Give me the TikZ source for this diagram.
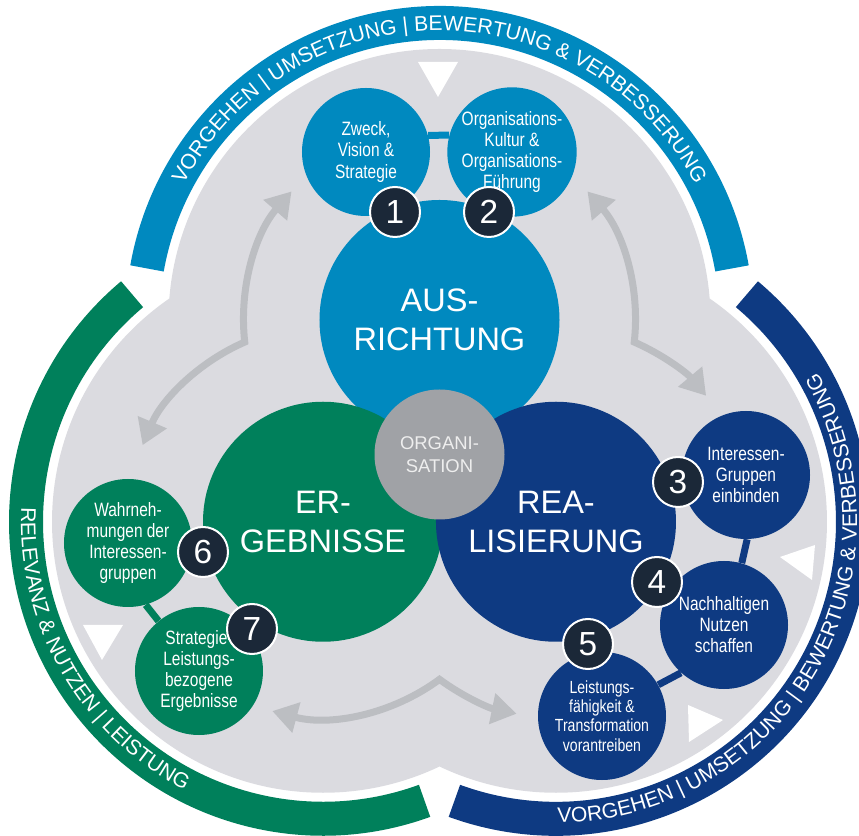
\documentclass[tikz,border=0pt]{standalone}
\usepackage{fontspec}
\setmainfont{Liberation Sans}
\newfontfamily\narrowfont{Liberation Sans}[FakeStretch=0.8]
\usetikzlibrary{arrows.meta,calc,decorations.text}

\definecolor{ausblue}{RGB}{0,137,191}
\definecolor{reablue}{RGB}{14,58,130}
\definecolor{ergreen}{RGB}{0,128,91}
\definecolor{backgray}{RGB}{219,219,224}
\definecolor{orggray}{RGB}{160,162,166}
\definecolor{orgtext}{RGB}{238,238,238}
\definecolor{arrowgray}{RGB}{188,190,194}
\definecolor{badgeblack}{RGB}{27,40,56}

\newcommand\bandfont{\fontsize{12}{12}\selectfont}

\tikzset{
  band/.style={line width=0.68cm, #1},
  bandtext/.style={decorate, decoration={text along path, text align=center, text color=white, text={|\bandfont|#1}}},
  bigcircle/.style={circle, fill=#1, text=white, minimum size=4.8cm, inner sep=0pt, align=center, font=\fontsize{18.5}{22}\selectfont},
  smallcircle/.style={circle, fill=#1, text=white, minimum size=2.56cm, inner sep=0pt, align=center, font=\fontsize{11}{12}\narrowfont},
  badge/.style={circle, fill=badgeblack, draw=white, line width=0.04cm, minimum size=1cm, inner sep=0pt, text=white, font=\fontsize{19}{19}\selectfont},
  link/.style={line width=0.14cm, #1},
  loop arrow/.style={arrowgray, line width=0.14cm, {Triangle[length=0.5cm,width=0.6cm]}-{Triangle[length=0.5cm,width=0.6cm]}},
  marker/.style={fill=white}
}

\begin{document}
\begin{tikzpicture}
\useasboundingbox (-8.79,-7.63) rectangle (8.39,9.09) ;

\coordinate (cA) at (90:2.69) ;
\coordinate (cE) at (210:2.69) ;
\coordinate (cR) at (330:2.69) ;

\draw [band=ausblue] ($(cA)+(10:5.94)$)  arc [start angle=10,  end angle=170, radius=5.94] ;
\draw [band=ergreen] ($(cE)+(130:5.94)$) arc [start angle=130, end angle=290, radius=5.94] ;
\draw [band=reablue] ($(cR)+(250:5.94)$) arc [start angle=250, end angle=410, radius=5.94] ;

\path [bandtext={VORGEHEN {\textbar} UMSETZUNG {\textbar} BEWERTUNG {\&} VERBESSERUNG}] ($(cA)+(170:5.79)$) arc [start angle=170, end angle=10, radius=5.79] ;
\path [bandtext={RELEVANZ {\&} NUTZEN {\textbar} LEISTUNG}] ($(cE)+(130:6.04)$) arc [start angle=130, end angle=290, radius=6.04] ;
\path [bandtext={VORGEHEN {\textbar} UMSETZUNG {\textbar} BEWERTUNG {\&} VERBESSERUNG}] ($(cR)+(250:6.02)$) arc [start angle=250, end angle=410, radius=6.02] ;

\fill [backgray] (cA) circle (5.42) (cE) circle (5.42) (cR) circle (5.42) ;

\fill [marker] (-0.43,7.85) -- (0.37,7.85) -- (-0.03,7.15) -- cycle ;
\fill [marker] (7.51,-1.81) -- (7.45,-2.51) -- (6.81,-2.05) -- cycle ;
\fill [marker] (4.97,-5.01) -- (4.99,-5.75) -- (5.67,-5.31) -- cycle ;
\fill [marker] (-7.13,-3.41) -- (-6.33,-3.41) -- (-6.75,-4.11) -- cycle ;

\draw [loop arrow] ($(cA)+(139:3.92)$) arc [start angle=139, end angle=186.47, radius=3.92] arc [start angle=113.53, end angle=157, radius=3.92] ;
\draw [loop arrow] ($(cA)+(41:3.92)$) arc [start angle=41, end angle=-6.47, radius=3.92] arc [start angle=66.47, end angle=40, radius=3.92] ;
\draw [loop arrow] ($(cE)+(-105:3.92)$) arc [start angle=-105, end angle=-53.53, radius=3.92] arc [start angle=-126.47, end angle=-101.6, radius=3.92] ;

\node [bigcircle=ausblue] (ausrichtung) at (cA) {AUS-\\RICHTUNG} ;
\node [bigcircle=ergreen] (ergebnisse) at (cE) {ER-\\GEBNISSE} ;
\node [bigcircle=reablue] (realisierung) at (cR) {REA-\\LISIERUNG} ;
\node [circle, fill=orggray, text=orgtext, minimum size=2.6cm, inner sep=0pt, align=center, font=\fontsize{10.5}{13}\selectfont] (organisation) at (0,0) {ORGANI-\\SATION} ;

\node [smallcircle=ausblue] (zweck) at (-1.47,6.05) {Zweck,\\Vision \&\\Strategie} ;
\node [smallcircle=ausblue] (kultur) at (1.45,6.05) {Organisations-\\Kultur \&\\Organisations-\\Führung} ;
\node [smallcircle=reablue] (interessen) at (6.13,-0.41) {Interessen-\\Gruppen\\einbinden} ;
\node [smallcircle=reablue] (nutzen) at (5.69,-3.41) {Nachhaltigen\\Nutzen\\schaffen} ;
\node [smallcircle=reablue, font=\fontsize{10}{11}\narrowfont] (leistung) at (3.25,-5.23) {Leistungs-\\fähigkeit \&\\Transformation\\vorantreiben} ;
\node [smallcircle=ergreen] (wahrnehmung) at (-6.23,-1.77) {Wahrneh-\\mungen der\\Interessen-\\gruppen} ;
\node [smallcircle=ergreen] (strategie) at (-4.81,-4.33) {Strategie-\\Leistungs-\\bezogene\\Ergebnisse} ;

\draw [link=ausblue] (zweck.15)        -- (kultur.165) ;
\draw [link=reablue] (interessen.271)  -- (nutzen.74) ;
\draw [link=reablue] (leistung.29)     -- (nutzen.228) ;
\draw [link=ergreen] (wahrnehmung.286) -- (strategie.129) ;

\node [badge] (b1) at (-0.89,4.85) {1} ;
\node [badge] (b2) at (0.99,4.85)  {2} ;
\node [badge] (b3) at (4.77,-0.55) {3} ;
\node [badge] (b4) at (4.35,-2.55) {4} ;
\node [badge] (b5) at (2.97,-3.79) {5} ;
\node [badge] (b6) at (-4.73,-1.95) {6} ;
\node [badge] (b7) at (-3.75,-3.49) {7} ;

\end{tikzpicture}
\end{document}
